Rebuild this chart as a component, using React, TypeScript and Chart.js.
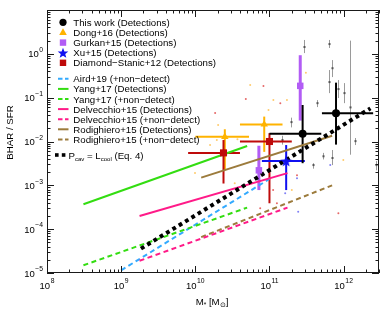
import React, { useEffect, useRef } from "react";
import { Chart, registerables } from "chart.js";

Chart.register(...registerables);

const FONT = '"Liberation Sans", Arial, Helvetica, sans-serif';

// ---------- axes ----------
const xMin = 1e8;
const xMax = 3e12;
const yMin = 1e-5;
const yMax = 10;
const xTickPowers = [8, 9, 10, 11, 12];
const yTickPowers = [-5, -4, -3, -2, -1, 0];

// ---------- samples with error bars ----------
// This work (Detections)
const thisWorkX = [2.8e11, 7.9e11];
const thisWorkY = [1.5e-2, 4.4e-2];
const thisWorkXLo = [1e11, 5.1e11];
const thisWorkXHi = [5e11, 2.5e12];
const thisWorkYLo = [3.2e-3, 8.5e-3];
const thisWorkYHi = [6.8e-2, 0.22];

// Dong+16 (Detections)
const dongX = [2.5e10, 8.5e10];
const dongY = [1.28e-2, 2.45e-2];
const dongXLo = [1e10, 4e10];
const dongXHi = [5.3e10, 1.5e11];
const dongYLo = [2.2e-3, 5.8e-3];
const dongYHi = [1.9e-2, 3.7e-2];

// Gurkan+15 (Detections)
const gurkanX = [7.2e10, 2.6e11];
const gurkanY = [2.2e-3, 0.186];
const gurkanYLo = [7.8e-4, 3e-2];
const gurkanYHi = [8e-3, 0.93];

// Xu+15 (Detections)
const xuX = [1.68e11];
const xuY = [3.6e-3];
const xuXLo = [7.9e10];
const xuXHi = [3e11];
const xuYLo = [7.8e-4];
const xuYHi = [8.3e-3];

// Diamond-Stanic+12 (Detections)
const dsX = [2.4e10, 1e11];
const dsY = [5.5e-3, 1e-2];
const dsXLo = [8e9, 4e10];
const dsXHi = [4e10, 2e11];
const dsYLo = [1.1e-3, 3.9e-4];
const dsYHi = [1.08e-2, 1.55e-2];

// ---------- individual sources (grey) ----------
const greyX = [2.9e11, 6.3e11, 7e11, 6.4e11, 8.5e11, 1.02e12, 1.23e12, 4.4e11, 1.44e12, 3.9e11, 1.47e11, 1.95e11, 5.3e11, 7e11, 2.7e12];
const greyY = [1.43, 1.67, 0.47, 0.227, 0.157, 0.127, 0.06, 0.075, 0.0102, 2.9e-3, 0.0108, 0.0277, 4.6e-3, 4.2e-3, 2.9e-3];
const greyYLo = [1.04, 1.36, 0.295, 0.127, 0.098, 0.075, 5e-3, 0.061, 8.3e-3, 2.4e-3, 8.5e-3, 0.021, 3.9e-3, 2.9e-3, 2.2e-3];
const greyYHi = [2.07, 2.07, 0.72, 0.427, 0.252, 0.215, 2.0, 0.088, 0.012, 3.2e-3, 0.0135, 0.035, 5.5e-3, 6.4e-3, 3.6e-3];

// faint comparison-sample points
const orangeDotX = [5.5e10, 1.13e11, 9.7e10, 1.58e10, 1.72e11, 2e11, 9.9e11, 2.03e10, 1.95e10, 9.9e9, 3.4e10, 3.7e10, 3.1e11];
const orangeDotY = [0.194, 0.088, 0.052, 8.3e-3, 0.088, 7.8e-4, 3.8e-3, 0.0237, 0.0108, 1.9e-3, 1.12e-3, 0.0113, 0.37];
const redDotX = [8.3e10, 4.8e10, 1.85e10, 1.12e11, 1.26e11, 8.5e11, 7.5e10, 2.35e11, 1.4e11];
const redDotY = [0.184, 0.093, 0.0445, 7.8e-4, 3.9e-4, 2.3e-4, 3e-4, 1.7e-3, 0.075];
const blueDotX = [6.6e11, 2.35e11, 1.63e11, 2.44e11, 1.19e11];
const blueDotY = [2.9e-3, 1.46e-3, 6.6e-4, 2.5e-4, 2.6e-3];

// ---------- relations ----------
const airdX = [1e9, 1e11];
const airdY = [1.15e-5, 1.4e-3];
const yangDetX = [3.1e8, 5e10];
const yangDetY = [3.7e-4, 7.9e-3];
const yangAllX = [3.1e8, 5e10];
const yangAllY = [1.5e-5, 3.1e-4];
const delvDetX = [1.77e9, 1.75e11];
const delvDetY = [2e-4, 1.9e-3];
const delvAllX = [1.77e9, 1.75e11];
const delvAllY = [1.9e-5, 3.1e-4];
const rodiDetX = [1.2e10, 7e11];
const rodiDetY = [1.5e-3, 1.35e-2];
const rodiAllX = [1.2e10, 7e11];
const rodiAllY = [6.6e-5, 1e-3];
const pcavX = [1.85e9, 2.3e12];
const pcavY = [3.6e-5, 5.7e-2];

// ---------- labels ----------
const markerLabels = [
  "This work (Detections)",
  "Dong+16 (Detections)",
  "Gurkan+15 (Detections)",
  "Xu+15 (Detections)",
  "Diamond\u2212Stanic+12 (Detections)",
];
const lineLabels = [
  "Aird+19 (+non\u2212detect)",
  "Yang+17 (Detections)",
  "Yang+17 (+non\u2212detect)",
  "Delvecchio+15 (Detections)",
  "Delvecchio+15 (+non\u2212detect)",
  "Rodighiero+15 (Detections)",
  "Rodighiero+15 (+non\u2212detect)",
];
const yTitle = "BHAR / SFR";

// ---------- colours ----------
const C_BLACK = "#000000";
const C_ORANGE = "#FFB300";
const C_PURPLE = "#B25CF5";
const C_BLUE = "#1010F0";
const C_RED = "#BE0A0A";
const C_AIRD = "#33AAFF";
const C_GREEN = "#33DD11";
const C_PINK = "#FF1A88";
const C_BROWN = "#9C7B3C";

const pts = (xs: number[], ys: number[]) => xs.map((x, i) => ({ x, y: ys[i] }));

function starCanvas(r: number, color: string) {
  const size = Math.ceil(2 * r + 2);
  const c = document.createElement("canvas");
  c.width = size;
  c.height = size;
  const g = c.getContext("2d")!;
  drawStar(g, size / 2, size / 2 + r * 0.1, r, color);
  return c;
}

function drawStar(g: CanvasRenderingContext2D, cx: number, cy: number, r: number, color: string) {
  g.fillStyle = color;
  g.beginPath();
  for (let i = 0; i < 10; i++) {
    const rr = i % 2 === 0 ? r : r * 0.42;
    const a = -Math.PI / 2 + (i * Math.PI) / 5;
    const px = cx + rr * Math.cos(a);
    const py = cy + rr * Math.sin(a);
    if (i === 0) g.moveTo(px, py);
    else g.lineTo(px, py);
  }
  g.closePath();
  g.fill();
}

type ErrGroup = {
  x: number[];
  y: number[];
  xlo?: number[];
  xhi?: number[];
  ylo?: number[];
  yhi?: number[];
  color: string;
  width: number;
};

const errGroups: ErrGroup[] = [
  { x: dongX, y: dongY, xlo: dongXLo, xhi: dongXHi, ylo: dongYLo, yhi: dongYHi, color: C_ORANGE, width: 2 },
  { x: dsX, y: dsY, xlo: dsXLo, xhi: dsXHi, ylo: dsYLo, yhi: dsYHi, color: C_RED, width: 2 },
  { x: gurkanX, y: gurkanY, ylo: gurkanYLo, yhi: gurkanYHi, color: C_PURPLE, width: 3 },
  { x: xuX, y: xuY, xlo: xuXLo, xhi: xuXHi, ylo: xuYLo, yhi: xuYHi, color: C_BLUE, width: 2 },
  { x: thisWorkX, y: thisWorkY, xlo: thisWorkXLo, xhi: thisWorkXHi, ylo: thisWorkYLo, yhi: thisWorkYHi, color: C_BLACK, width: 2 },
];

const errorBarPlugin = {
  id: "errorBars",
  beforeDatasetsDraw(chart: any) {
    const { ctx, chartArea: a } = chart;
    const xs = chart.scales.x;
    const ys = chart.scales.y;
    ctx.save();
    ctx.beginPath();
    ctx.rect(a.left, a.top, a.right - a.left, a.bottom - a.top);
    ctx.clip();
    // grey individual sources
    ctx.strokeStyle = "rgba(120,120,120,0.75)";
    ctx.lineWidth = 1;
    greyX.forEach((x, i) => {
      const px = Math.round(xs.getPixelForValue(x)) + 0.5;
      ctx.beginPath();
      ctx.moveTo(px, ys.getPixelForValue(greyYLo[i]));
      ctx.lineTo(px, ys.getPixelForValue(greyYHi[i]));
      ctx.stroke();
      ctx.fillStyle = "#555";
      ctx.fillRect(px - 1, ys.getPixelForValue(greyY[i]) - 1, 2, 2);
    });
    // sample error bars
    errGroups.forEach((g) => {
      ctx.strokeStyle = g.color;
      ctx.lineWidth = g.width;
      g.x.forEach((x, i) => {
        const px = xs.getPixelForValue(x);
        const py = ys.getPixelForValue(g.y[i]);
        if (g.xlo && g.xhi) {
          ctx.beginPath();
          ctx.moveTo(xs.getPixelForValue(g.xlo[i]), py);
          ctx.lineTo(xs.getPixelForValue(g.xhi[i]), py);
          ctx.stroke();
        }
        if (g.ylo && g.yhi) {
          ctx.beginPath();
          ctx.moveTo(px, ys.getPixelForValue(g.ylo[i]));
          ctx.lineTo(px, ys.getPixelForValue(g.yhi[i]));
          ctx.stroke();
        }
      });
    });
    ctx.restore();
  },
};

function drawPow(ctx: CanvasRenderingContext2D, e: number, x: number, baseline: number, align: "center" | "right") {
  const base = "10";
  const sup = e < 0 ? "\u2212" + String(-e) : String(e);
  ctx.textAlign = "left";
  ctx.textBaseline = "alphabetic";
  ctx.font = `9.5px ${FONT}`;
  const wb = ctx.measureText(base).width;
  ctx.font = `6.8px ${FONT}`;
  const ws = ctx.measureText(sup).width;
  const total = wb + ws + 0.5;
  const x0 = align === "center" ? x - total / 2 : x - total;
  ctx.font = `9.5px ${FONT}`;
  ctx.fillText(base, x0, baseline);
  ctx.font = `6.8px ${FONT}`;
  ctx.fillText(sup, x0 + wb + 0.5, baseline - 5.2);
}

type Seg = { t: string; small?: boolean; dy?: number };
function drawRich(ctx: CanvasRenderingContext2D, segs: Seg[], x: number, baseline: number, big: number, small: number) {
  ctx.textAlign = "left";
  ctx.textBaseline = "alphabetic";
  let cx = x;
  segs.forEach((s) => {
    ctx.font = `${s.small ? small : big}px ${FONT}`;
    ctx.fillText(s.t, cx, baseline + (s.dy || 0));
    cx += ctx.measureText(s.t).width;
  });
  return cx;
}

const axesPlugin = {
  id: "axesIDL",
  afterDraw(chart: any) {
    const { ctx, chartArea: a } = chart;
    const xs = chart.scales.x;
    const ys = chart.scales.y;
    ctx.save();
    ctx.strokeStyle = "#1a1a1a";
    ctx.lineWidth = 1;
    ctx.strokeRect(a.left + 0.5, a.top + 0.5, a.right - a.left - 1, a.bottom - a.top - 1);
    // x ticks
    for (let e = 8; e <= 12; e++) {
      for (let k = 1; k <= 9; k++) {
        const v = k * Math.pow(10, e);
        if (v < xMin || v > xMax) continue;
        const px = Math.round(xs.getPixelForValue(v)) + 0.5;
        const len = k === 1 ? 7 : 3.5;
        ctx.beginPath();
        ctx.moveTo(px, a.bottom);
        ctx.lineTo(px, a.bottom - len);
        ctx.moveTo(px, a.top);
        ctx.lineTo(px, a.top + len);
        ctx.stroke();
      }
    }
    // y ticks
    for (let e = -5; e <= 1; e++) {
      for (let k = 1; k <= 9; k++) {
        const v = k * Math.pow(10, e);
        if (v < yMin || v > yMax) continue;
        const py = Math.round(ys.getPixelForValue(v)) + 0.5;
        const len = k === 1 ? 7 : 3.5;
        ctx.beginPath();
        ctx.moveTo(a.left, py);
        ctx.lineTo(a.left + len, py);
        ctx.moveTo(a.right, py);
        ctx.lineTo(a.right - len, py);
        ctx.stroke();
      }
    }
    ctx.fillStyle = "#000";
    xTickPowers.forEach((e) => {
      drawPow(ctx, e, xs.getPixelForValue(Math.pow(10, e)), a.bottom + 15.5, "center");
    });
    yTickPowers.forEach((e) => {
      drawPow(ctx, e, a.left - 4, ys.getPixelForValue(Math.pow(10, e)) + 3.5, "right");
    });
    // y title
    ctx.save();
    ctx.translate(10.5, 132.5);
    ctx.rotate(-Math.PI / 2);
    ctx.font = `9.7px ${FONT}`;
    ctx.textAlign = "center";
    ctx.textBaseline = "middle";
    ctx.fillText(yTitle, 0, 0);
    ctx.restore();
    // x title: M* [Msun]
    const xsegs: Seg[] = [
      { t: "M" },
      { t: "*", small: true, dy: 2 },
      { t: " [M" },
      { t: "\u2299", small: true, dy: 2 },
      { t: "]" },
    ];
    ctx.font = `9.7px ${FONT}`;
    let w = 0;
    xsegs.forEach((s) => {
      ctx.font = `${s.small ? 6.5 : 9.7}px ${FONT}`;
      w += ctx.measureText(s.t).width;
    });
    drawRich(ctx, xsegs, (a.left + a.right) / 2 - 1 - w / 2, 305, 9.7, 6.5);
    ctx.restore();
  },
};

const legendPlugin = {
  id: "idlLegend",
  afterDraw(chart: any) {
    const ctx: CanvasRenderingContext2D = chart.ctx;
    ctx.save();
    const sx = 63;
    const tx = 73.3;
    const rowsM = [22.3, 32.5, 42.6, 52.7, 62.8];
    const rowsL = [78.7, 88.9, 99, 109.1, 119.2, 129.3, 139.4];
    ctx.font = `9.7px ${FONT}`;
    ctx.fillStyle = "#000";
    ctx.textAlign = "left";
    ctx.textBaseline = "alphabetic";
    markerLabels.forEach((l, i) => ctx.fillText(l, tx, rowsM[i] + 3.5));
    lineLabels.forEach((l, i) => ctx.fillText(l, tx, rowsL[i] + 3.5));
    // marker symbols
    ctx.fillStyle = C_BLACK;
    ctx.beginPath();
    ctx.arc(sx, rowsM[0], 3.6, 0, Math.PI * 2);
    ctx.fill();
    ctx.fillStyle = C_ORANGE;
    ctx.beginPath();
    ctx.moveTo(sx, rowsM[1] - 4.2);
    ctx.lineTo(sx + 3.8, rowsM[1] + 2.6);
    ctx.lineTo(sx - 3.8, rowsM[1] + 2.6);
    ctx.closePath();
    ctx.fill();
    ctx.fillStyle = C_PURPLE;
    ctx.fillRect(sx - 3.2, rowsM[2] - 3.2, 6.4, 6.4);
    drawStar(ctx, sx, rowsM[3] + 0.6, 5.6, C_BLUE);
    ctx.fillStyle = C_RED;
    ctx.fillRect(sx - 3.2, rowsM[4] - 3.2, 6.4, 6.4);
    // line samples
    const lineStyles = [
      { c: C_AIRD, d: true },
      { c: C_GREEN, d: false },
      { c: C_GREEN, d: true },
      { c: C_PINK, d: false },
      { c: C_PINK, d: true },
      { c: C_BROWN, d: false },
      { c: C_BROWN, d: true },
    ];
    lineStyles.forEach((s, i) => {
      ctx.strokeStyle = s.c;
      ctx.lineWidth = 2;
      ctx.setLineDash(s.d ? [4.5, 2.5] : []);
      ctx.beginPath();
      ctx.moveTo(58, rowsL[i]);
      ctx.lineTo(68.5, rowsL[i]);
      ctx.stroke();
    });
    ctx.setLineDash([]);
    // P_cav = L_cool
    const py = 155;
    ctx.fillStyle = "#000";
    ctx.fillRect(55, py - 1.8, 3.6, 3.6);
    ctx.fillRect(61.8, py - 1.8, 3.6, 3.6);
    drawRich(
      ctx,
      [
        { t: "P" },
        { t: "cav", small: true, dy: 2 },
        { t: " = L" },
        { t: "cool", small: true, dy: 2 },
        { t: " (Eq. 4)" },
      ],
      68.5,
      py + 3.5,
      9.7,
      6
    );
    ctx.restore();
  },
};

export default function App() {
  const ref = useRef<HTMLCanvasElement | null>(null);
  useEffect(() => {
    if (!ref.current) return;
    const star = starCanvas(6, C_BLUE);
    const dotDs = (xs: number[], ys: number[], col: string) => ({
      data: pts(xs, ys),
      pointRadius: 1,
      pointBackgroundColor: col,
      pointBorderWidth: 0,
      showLine: false,
      order: 30,
    });
    const lineDs = (xs: number[], ys: number[], col: string, dash: number[], w = 2) => ({
      data: pts(xs, ys),
      showLine: true,
      borderColor: col,
      borderWidth: w,
      borderDash: dash,
      borderCapStyle: "butt",
      pointRadius: 0,
      fill: false,
      order: 10,
    });
    const chart = new Chart(ref.current, {
      type: "scatter",
      data: {
        datasets: [
          dotDs(orangeDotX, orangeDotY, "rgba(255,185,60,0.75)"),
          dotDs(redDotX, redDotY, "rgba(220,40,40,0.7)"),
          dotDs(blueDotX, blueDotY, "rgba(60,60,240,0.65)"),
          lineDs(yangDetX, yangDetY, C_GREEN, []),
          lineDs(yangAllX, yangAllY, C_GREEN, [5, 3.5]),
          lineDs(delvDetX, delvDetY, C_PINK, []),
          lineDs(delvAllX, delvAllY, C_PINK, [5, 3.5]),
          lineDs(rodiDetX, rodiDetY, C_BROWN, []),
          lineDs(rodiAllX, rodiAllY, C_BROWN, [5, 3.5]),
          lineDs(airdX, airdY, C_AIRD, [5, 3.5]),
          { ...lineDs(pcavX, pcavY, C_BLACK, [3.8, 3.6], 4), order: 5 },
          {
            data: pts(dsX, dsY),
            pointStyle: "rect",
            pointRadius: 5,
            pointBackgroundColor: C_RED,
            pointBorderWidth: 0,
            order: 1,
          },
          {
            data: pts(dongX, dongY),
            pointStyle: "triangle",
            pointRadius: 4.3,
            pointBackgroundColor: C_ORANGE,
            pointBorderWidth: 0,
            order: 1,
          },
          {
            data: pts(gurkanX, gurkanY),
            pointStyle: "rect",
            pointRadius: 4.6,
            pointBackgroundColor: C_PURPLE,
            pointBorderWidth: 0,
            order: 1,
          },
          {
            data: pts(xuX, xuY),
            pointStyle: star as any,
            pointRadius: 6,
            order: 1,
          },
          {
            data: pts(thisWorkX, thisWorkY),
            pointStyle: "circle",
            pointRadius: 4,
            pointBackgroundColor: C_BLACK,
            pointBorderWidth: 0,
            order: 0,
          },
        ] as any,
      },
      options: {
        animation: false,
        responsive: false,
        events: [],
        layout: { padding: { left: 47, right: 11, top: 10, bottom: 39 } },
        plugins: { legend: { display: false }, tooltip: { enabled: false } },
        scales: {
          x: { type: "logarithmic", min: xMin, max: xMax, display: false },
          y: { type: "logarithmic", min: yMin, max: yMax, display: false },
        },
      },
      plugins: [errorBarPlugin, axesPlugin, legendPlugin],
    });
    return () => chart.destroy();
  }, []);
  return (
    <div style={{ position: "absolute", left: 0, top: 0, width: 390, height: 312, background: "#fff" }}>
      <canvas ref={ref} width={390} height={312} style={{ display: "block" }} />
    </div>
  );
}
